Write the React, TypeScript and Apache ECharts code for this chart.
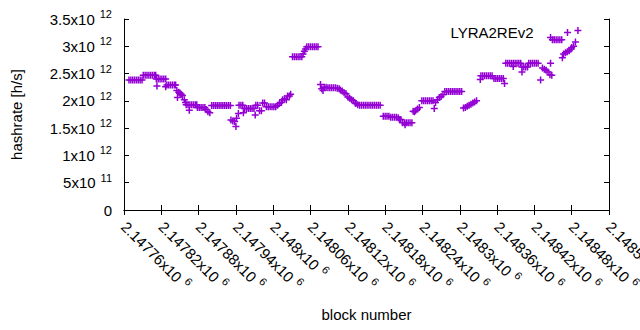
import React, { useEffect, useRef } from "react";
import * as echarts from "echarts";

// x axis (block number)
const X_MIN = 2147760;
const X_MAX = 2148540;
const X_STEP = 60;
// y axis (hashrate, in units of 1e12 h/s)
const Y_MIN = 0;
const Y_MAX = 3.5;
const Y_STEP = 0.5;

const SERIES_NAME = "LYRA2REv2";
const X_TITLE = "block number";
const Y_TITLE = "hashrate [h/s]";

// [block number, hashrate x1e12 h/s]
const pointsPart1: [number, number][] = [
  [2147768, 2.38], [2147771, 2.38], [2147774, 2.38], [2147777, 2.38], [2147780, 2.38], [2147783, 2.38], [2147786, 2.38], [2147789, 2.38],
  [2147791, 2.47], [2147794, 2.47], [2147797, 2.47], [2147800, 2.47], [2147803, 2.47], [2147806, 2.47], [2147809, 2.47], [2147811, 2.47],
  [2147812, 2.40], [2147815, 2.40], [2147818, 2.40], [2147821, 2.40], [2147824, 2.40], [2147827, 2.40], [2147813, 2.27],
  [2147829, 2.29], [2147832, 2.29], [2147835, 2.29], [2147838, 2.29], [2147841, 2.29], [2147843, 2.29], [2147827, 2.26],
  [2147845, 2.19], [2147848, 2.16], [2147850, 2.14], [2147852, 2.12], [2147854, 2.10], [2147846, 2.06],
  [2147857, 2.02], [2147859, 1.97],
  [2147860, 1.93], [2147863, 1.93], [2147866, 1.93], [2147869, 1.93], [2147872, 1.93], [2147875, 1.93], [2147877, 1.93], [2147865, 1.83],
  [2147878, 1.88], [2147881, 1.88], [2147884, 1.88], [2147887, 1.88], [2147890, 1.88],
  [2147892, 1.84], [2147895, 1.80], [2147898, 1.78],
  [2147901, 1.915], [2147904, 1.915], [2147907, 1.915], [2147910, 1.915], [2147913, 1.915], [2147916, 1.915], [2147919, 1.915], [2147922, 1.915], [2147925, 1.915], [2147928, 1.915], [2147931, 1.915],
  [2147932, 1.65], [2147935, 1.63], [2147938, 1.62], [2147940, 1.53],
];

const pointsPart2: [number, number][] = [
  [2147945, 1.92], [2147948, 1.92], [2147951, 1.92], [2147944, 1.77], [2147941, 1.68], [2147952, 1.78],
  [2147954, 1.86], [2147957, 1.86], [2147960, 1.86], [2147963, 1.86], [2147966, 1.86], [2147969, 1.86], [2147971, 1.74],
  [2147972, 1.92], [2147975, 1.92],
  [2147978, 1.82], [2147981, 1.82],
  [2147983, 1.96], [2147986, 1.96],
  [2147989, 1.89], [2147992, 1.89], [2147995, 1.89], [2147998, 1.89], [2148001, 1.89], [2148004, 1.89],
  [2148007, 1.92], [2148010, 1.95], [2148013, 1.97],
  [2148015, 2.02], [2148018, 2.04], [2148021, 2.02],
  [2148023, 2.09], [2148026, 2.09], [2148028, 2.12],
  [2148031, 2.81], [2148034, 2.81], [2148037, 2.81], [2148040, 2.81], [2148043, 2.81], [2148046, 2.81],
  [2148048, 2.86], [2148050, 2.91], [2148052, 2.95],
  [2148054, 2.99], [2148057, 2.99], [2148060, 2.99], [2148063, 2.99], [2148066, 2.99], [2148069, 2.99], [2148072, 2.99],
  [2148076, 2.30], [2148078, 2.22], [2148080, 2.19],
  [2148082, 2.25], [2148085, 2.25], [2148088, 2.24], [2148091, 2.24], [2148094, 2.24], [2148097, 2.24], [2148100, 2.24], [2148103, 2.23], [2148106, 2.22],
  [2148108, 2.20], [2148111, 2.18], [2148114, 2.15], [2148117, 2.13],
  [2148120, 2.07], [2148123, 2.05], [2148126, 2.02], [2148129, 2.00], [2148132, 1.96],
];

const pointsPart3: [number, number][] = [
  [2148133, 1.95], [2148136, 1.93], [2148139, 1.92], [2148142, 1.92], [2148145, 1.92], [2148148, 1.92], [2148151, 1.92], [2148154, 1.92],
  [2148157, 1.92], [2148160, 1.92], [2148163, 1.92], [2148166, 1.92], [2148169, 1.92], [2148172, 1.92],
  [2148177, 1.72], [2148180, 1.72], [2148183, 1.72], [2148186, 1.72],
  [2148189, 1.70], [2148192, 1.70], [2148195, 1.70], [2148198, 1.70], [2148201, 1.69],
  [2148203, 1.66], [2148205, 1.66],
  [2148208, 1.60], [2148211, 1.60], [2148214, 1.60], [2148217, 1.60], [2148220, 1.60], [2148223, 1.60], [2148212, 1.56],
  [2148225, 1.81], [2148227, 1.80], [2148229, 1.82], [2148232, 1.85], [2148235, 1.88],
  [2148239, 2.00], [2148242, 2.00], [2148245, 2.00], [2148248, 2.00], [2148251, 2.00], [2148254, 2.00], [2148257, 2.00],
  [2148259, 1.86],
  [2148261, 1.97], [2148264, 2.02], [2148267, 2.06], [2148270, 2.08], [2148273, 2.11],
  [2148276, 2.17], [2148279, 2.17], [2148282, 2.17], [2148285, 2.17], [2148288, 2.17], [2148291, 2.17], [2148294, 2.17], [2148297, 2.17], [2148300, 2.17], [2148303, 2.17],
  [2148306, 1.87], [2148309, 1.88], [2148312, 1.90], [2148315, 1.92], [2148318, 1.94], [2148321, 1.96], [2148324, 1.98], [2148327, 2.00],
];

const pointsPart4: [number, number][] = [
  [2148333, 2.39],
  [2148334, 2.46], [2148337, 2.46], [2148340, 2.46], [2148343, 2.46], [2148346, 2.46], [2148349, 2.46], [2148352, 2.46],
  [2148355, 2.41], [2148358, 2.41], [2148361, 2.41], [2148364, 2.41], [2148367, 2.41], [2148370, 2.41], [2148372, 2.32],
  [2148374, 2.69], [2148377, 2.69], [2148380, 2.69], [2148383, 2.69], [2148386, 2.69], [2148389, 2.69], [2148392, 2.69], [2148395, 2.69], [2148398, 2.69], [2148386, 2.63],
  [2148400, 2.62], [2148403, 2.62], [2148406, 2.62], [2148409, 2.62], [2148400, 2.53],
  [2148411, 2.69], [2148414, 2.69], [2148417, 2.69], [2148420, 2.69], [2148423, 2.69], [2148426, 2.69],
  [2148430, 2.38],
  [2148433, 2.60], [2148436, 2.58], [2148439, 2.56], [2148442, 2.53],
  [2148445, 2.48], [2148448, 2.47], [2148446, 2.69],
  [2148449, 3.12], [2148452, 3.12], [2148455, 3.12], [2148458, 3.12], [2148461, 3.12], [2148464, 3.12], [2148446, 3.16],
  [2148465, 2.79],
  [2148467, 2.86], [2148470, 2.88], [2148473, 2.90], [2148476, 2.92], [2148479, 2.95],
  [2148480, 2.98], [2148483, 3.00], [2148486, 3.08],
  [2148490, 3.29],
];

const FONT = "'Liberation Sans', Arial, sans-serif";
const COLOR = "#9400d3";
const CROSS = "path://M0,2.75H7V4.25H0Z M2.75,0H4.25V7H2.75Z";

const richStyles = {
  m: { fontSize: 15, fontFamily: FONT, color: "#000", verticalAlign: "bottom", lineHeight: 15 },
  s: { fontSize: 11, fontFamily: FONT, color: "#000", verticalAlign: "bottom", lineHeight: 11, padding: [0, 0, 7, 5] },
};

function xLabel(v: number): string {
  const mant = parseFloat((v / 1e6).toPrecision(6));
  return `{m|${mant}x10}{s|6}`;
}

function yLabel(v: number): string {
  if (v === 0) return "{m|0}";
  if (v < 1) return `{m|${Math.round(v * 10)}x10}{s|11}`;
  return `{m|${v}x10}{s|12}`;
}

export default function App() {
  const ref = useRef<HTMLDivElement>(null);
  useEffect(() => {
    if (!ref.current) return;
    const chart = echarts.init(ref.current, undefined, { renderer: "svg" });
    const data = [...pointsPart1, ...pointsPart2, ...pointsPart3, ...pointsPart4];
    const axisLine = { show: true, lineStyle: { color: "#000", width: 1 } };
    const tick = { show: true, inside: true, length: 5, lineStyle: { color: "#000", width: 1 } };
    chart.setOption({
      animation: false,
      backgroundColor: "#fff",
      grid: { left: 124, right: 31, top: 19, bottom: 120, containLabel: false, outerBoundsMode: "none" },
      legend: {
        data: [SERIES_NAME],
        right: 64,
        top: 20,
        align: "right",
        itemWidth: 58,
        itemHeight: 7,
        icon: CROSS,
        textStyle: { fontSize: 15, fontFamily: FONT, color: "#000" },
      },
      xAxis: [
        {
          type: "value",
          min: X_MIN,
          max: X_MAX,
          interval: X_STEP,
          position: "bottom",
          name: X_TITLE,
          nameLocation: "middle",
          nameGap: 97,
          nameTextStyle: { fontSize: 15, fontFamily: FONT, color: "#000" },
          axisLine,
          axisTick: tick,
          splitLine: { show: false },
          axisLabel: {
            rotate: -45,
            margin: 14,
            showMinLabel: true,
            showMaxLabel: true,
            hideOverlap: false,
            formatter: xLabel,
            rich: richStyles,
          },
        },
        {
          type: "value",
          min: X_MIN,
          max: X_MAX,
          interval: X_STEP,
          position: "top",
          axisLine,
          axisTick: tick,
          splitLine: { show: false },
          axisLabel: { show: false },
        },
      ],
      yAxis: [
        {
          type: "value",
          min: Y_MIN,
          max: Y_MAX,
          interval: Y_STEP,
          position: "left",
          name: Y_TITLE,
          nameLocation: "middle",
          nameGap: 100,
          nameTextStyle: { fontSize: 15, fontFamily: FONT, color: "#000" },
          axisLine,
          axisTick: tick,
          splitLine: { show: false },
          axisLabel: {
            margin: 12,
            showMinLabel: true,
            showMaxLabel: true,
            formatter: yLabel,
            rich: richStyles,
          },
        },
        {
          type: "value",
          min: Y_MIN,
          max: Y_MAX,
          interval: Y_STEP,
          position: "right",
          axisLine,
          axisTick: tick,
          splitLine: { show: false },
          axisLabel: { show: false },
        },
      ],
      series: [
        {
          name: SERIES_NAME,
          type: "scatter",
          xAxisIndex: 0,
          yAxisIndex: 0,
          symbol: CROSS,
          symbolSize: 7,
          itemStyle: { color: COLOR, opacity: 1 },
          emphasis: { disabled: true },
          data,
        },
      ],
    });
    return () => chart.dispose();
  }, []);
  return (
    <div
      ref={ref}
      style={{ position: "fixed", left: 0, top: 0, width: 640, height: 330, background: "#fff" }}
    />
  );
}
